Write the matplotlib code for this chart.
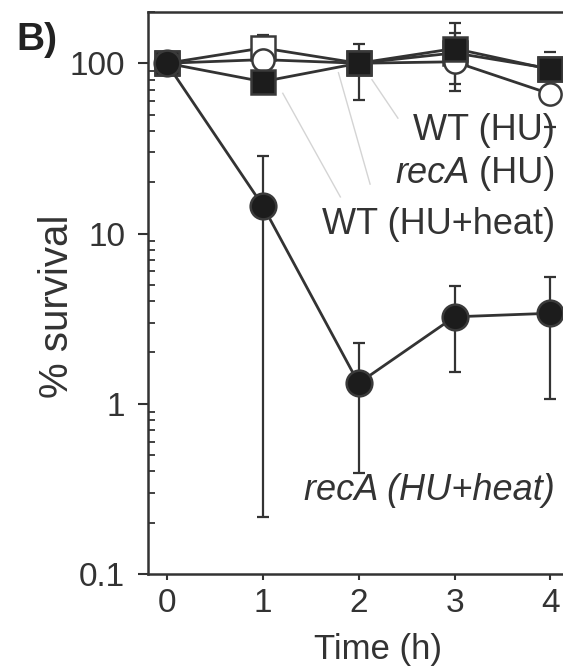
import numpy as np
import matplotlib
matplotlib.use('Agg')
import matplotlib.pyplot as plt

plt.rcParams['font.family'] = ['Liberation Sans', 'DejaVu Sans']

# data (None = no error bar visible)
times = [0, 1, 2, 3, 4]

wt_hu = [100, 123, 100, 115, 93]
wt_hu_hi = [None, 146, None, 151, None]
wt_hu_lo = [None, None, None, 76, None]

reca_hu = [100, 105, 100, 102, 66]
reca_hu_hi = [None, None, None, None, None]
reca_hu_lo = [None, None, None, None, 42.2]

wt_heat = [100, 78, 100, 122, 92]
wt_heat_hi = [None, None, 130, 173, 116]
wt_heat_lo = [None, None, 61, 69, None]

reca_heat = [100, 14.6, 1.32, 3.24, 3.4]
reca_heat_hi = [None, 28.5, 2.26, 4.9, 5.56]
reca_heat_lo = [None, 0.217, 0.39, 1.54, 1.06]

labels = ['WT (HU)', 'recA (HU)', 'WT (HU+heat)', 'recA (HU+heat)']

txt = '#333333'
ln = '#333333'
dark = '#1c1c1c'


def yerr(vals, lo, hi):
    v = np.array(vals, dtype=float)
    lo = np.array([np.nan if a is None else a for a in lo], dtype=float)
    hi = np.array([np.nan if a is None else a for a in hi], dtype=float)
    return np.vstack([v - lo, hi - v])


fig = plt.figure(figsize=(5.63, 6.67), dpi=100)
ax = fig.add_axes([148 / 563, 93 / 667, 460 / 563, 562 / 667])
ax.set_yscale('log')

series = [
    (wt_hu, wt_hu_lo, wt_hu_hi, 's', 'white', 17, 3),
    (reca_hu, reca_hu_lo, reca_hu_hi, 'o', 'white', 16, 4),
    (wt_heat, wt_heat_lo, wt_heat_hi, 's', dark, 17, 5),
    (reca_heat, reca_heat_lo, reca_heat_hi, 'o', dark, 18.5, 6),
]
for vals, lo, hi, mk, fc, ms, z in series:
    ax.errorbar(times, vals, yerr=yerr(vals, lo, hi), fmt='none',
                ecolor=ln, elinewidth=1.6, capsize=4, capthick=1.6, zorder=2)
    ax.plot(times, vals, color=ln, lw=2.0, marker=mk, ms=ms, mfc=fc,
            mec='#3a3a3a', mew=1.8, zorder=z)

# grey leader lines from the labels
leaders = [((1.21, 66.6), (1.81, 16.4)),
           ((1.79, 88), (2.12, 19.5)),
           ((2.14, 80), (2.41, 47.6))]
for p0, p1 in leaders:
    ax.plot([p0[0], p1[0]], [p0[1], p1[1]], color='#d4d4d4', lw=1.0, zorder=1)

fs = 26
lab_y = [35.3, 19.8, 10.0, 0.272]
for lab, yy in zip(labels, lab_y):
    if lab.startswith('recA') and 'heat' not in lab:
        t = ax.text(4.05, yy, lab[4:], ha='right', va='baseline',
                    fontsize=fs, color=txt, zorder=7)
        ax.annotate('recA', xycoords=t, xy=(0, 0), ha='right',
                    va='bottom', fontsize=fs, style='italic', color=txt,
                    textcoords='offset points', xytext=(1, 0), zorder=7)
    else:
        ax.text(4.05, yy, lab, ha='right', va='baseline', fontsize=fs,
                style='italic' if lab.startswith('recA') else 'normal',
                color=txt, zorder=7)

ax.set_xlim(-0.195, 4.6)
ax.set_ylim(0.1, 200)
ax.set_xticks(times)
ax.set_xticklabels([str(t) for t in times])
ax.set_yticks([0.1, 1, 10, 100])
ax.set_yticklabels(['0.1', '1', '10', '100'])

ax.tick_params(axis='y', which='major', direction='out', length=7.5,
               width=1.5, pad=9, labelsize=24, colors=ln, labelcolor=txt)
ax.tick_params(axis='y', which='minor', direction='in', length=5,
               width=1.3, colors=ln)
ax.tick_params(axis='x', which='major', direction='out', length=4,
               width=1.5, pad=6, labelsize=24, colors=ln, labelcolor=txt)
ax.tick_params(axis='x', which='minor', length=0)

for s in ['left', 'bottom', 'top']:
    ax.spines[s].set_linewidth(1.8)
    ax.spines[s].set_color(ln)
ax.spines['right'].set_visible(False)

ax.set_xlabel('Time (h)', fontsize=25, color=txt, labelpad=10)
ax.set_ylabel('% survival', fontsize=29, color=txt)
ax.yaxis.set_label_coords(-0.157, 0.477)

fig.text(16 / 563, 1 - 22 / 667, 'B)', fontsize=28, fontweight='bold',
         color='#222222', ha='left', va='top')

fig.savefig('out.png', dpi=100)
